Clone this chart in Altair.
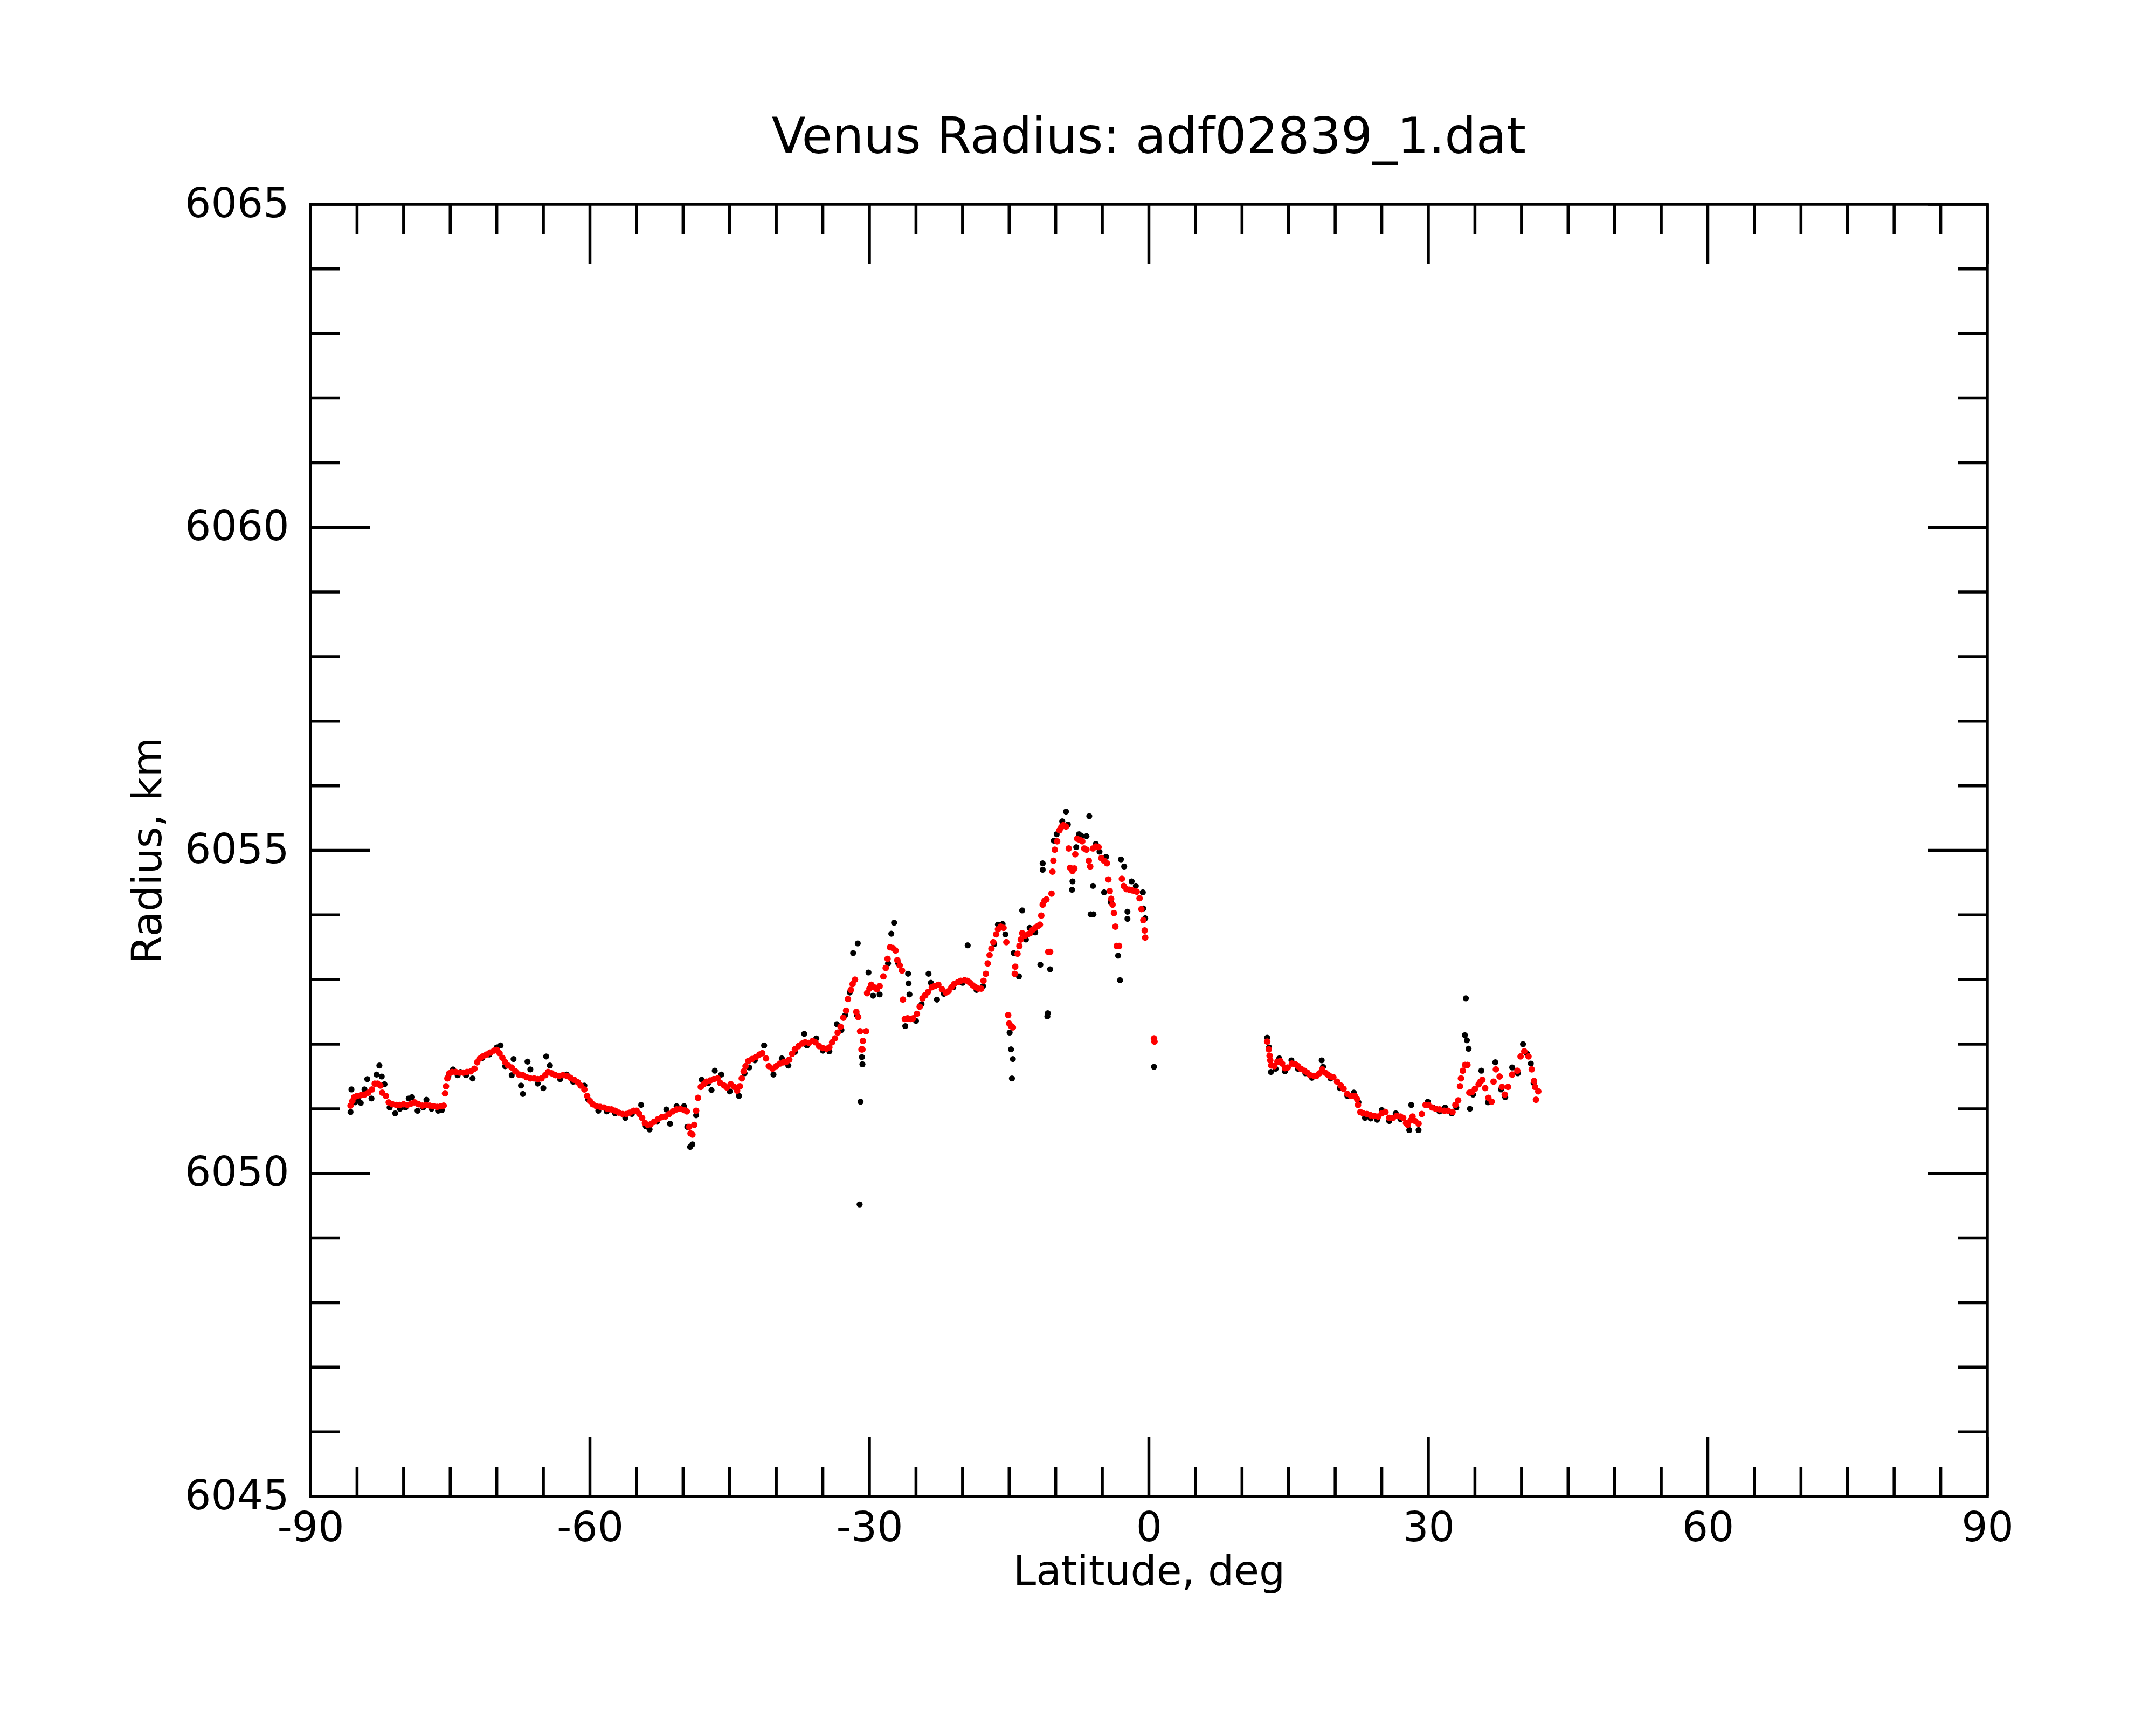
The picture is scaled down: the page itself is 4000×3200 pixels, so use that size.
import altair as alt
import pandas as pd

# ---------------- data ----------------
red_lat = [
    -85.7, -85.5, -85.3, -85.0, -84.6, -84.2, -83.8, -83.4, -83.1, -82.8, -82.5, -82.3,
    -81.9, -81.6, -81.2, -80.8, -80.4, -80.0, -79.6, -79.2, -78.8, -78.4, -78.0, -77.6,
    -77.2, -76.8, -76.4, -76.0, -75.7, -75.55, -75.45, -75.3, -75.1, -74.8, -74.4, -74.0,
    -73.6, -73.2, -72.8, -72.4, -72.1, -71.8, -71.5, -71.1, -70.7, -70.3, -70.0, -69.7,
    -69.4, -69.1, -68.8, -68.4, -68.0, -67.6, -67.2, -66.8, -66.4, -66.0, -65.6, -65.2,
    -64.8, -64.5, -64.1, -63.7, -63.3, -62.9, -62.5, -62.1, -61.7, -61.3, -61.0, -60.6,
    -60.3, -60.0, -59.7, -59.3, -58.9, -58.5, -58.1, -57.7, -57.3, -56.9, -56.5, -56.1,
    -55.7, -55.3, -55.0, -54.7, -54.4, -54.1, -53.8, -53.5, -53.1, -52.7, -52.3, -51.9,
    -51.5, -51.1, -50.7, -50.3, -49.9, -49.6, -49.35, -49.2, -49.0, -48.8, -48.6, -48.4,
    -48.1, -47.8, -47.5, -47.1, -46.7, -46.3, -46.0, -45.6, -45.3, -44.9, -44.5, -44.2,
    -43.9, -43.7, -43.5, -43.3, -43.0, -42.6, -42.2, -41.8, -41.5, -41.1, -40.8, -40.4,
    -40.0, -39.6, -39.2, -38.9, -38.6, -38.3, -38.0, -37.6, -37.2, -36.9, -36.5, -36.1,
    -35.8, -35.4, -35.0, -34.6, -34.3, -34.0, -33.7, -33.4, -33.1, -32.8, -32.5, -32.3,
    -32.0, -31.8, -31.55, -31.4, -31.2, -31.0, -30.85, -30.75, -30.7, -30.35, -30.25, -30.0,
    -29.8, -29.5, -29.2, -28.9, -28.5, -28.25, -28.05, -27.8, -27.5, -27.2, -27.0, -26.75,
    -26.5, -26.4, -26.2, -25.9, -25.6, -25.3, -24.9, -24.6, -24.3, -24.0, -23.7, -23.3,
    -23.0, -22.6, -22.2, -21.8, -21.5, -21.2, -20.9, -20.5, -20.2, -19.8, -19.5, -19.2,
    -18.9, -18.6, -18.3, -18.0, -17.75, -17.5, -17.3, -17.1, -16.9, -16.7, -16.4, -16.2,
    -15.9, -15.6, -15.3, -15.1, -15.0, -14.8, -14.6, -14.4, -14.35, -14.1, -13.9, -13.75,
    -13.6, -13.3, -13.0, -12.75, -12.5, -12.2, -11.9, -11.7, -11.55, -11.4, -11.2, -11.0,
    -10.8, -10.6, -10.45, -10.35, -10.25, -10.1, -9.85, -9.6, -9.4, -9.2, -8.9, -8.6,
    -8.45, -8.2, -8.0, -7.9, -7.7, -7.4, -7.15, -6.95, -6.7, -6.45, -6.3, -6.0,
    -5.7, -5.4, -5.1, -4.8, -4.5, -4.35, -4.2, -4.05, -3.9, -3.75, -3.6, -3.45,
    -3.2, -2.9, -2.7, -2.4, -2.1, -1.8, -1.5, -1.3, -1.0, -0.8, -0.6, -0.45,
    -0.4, 0.55, 0.6,
    12.70, 12.87, 12.96, 13.03, 13.14, 13.47, 13.8, 14.1, 14.3, 14.6, 14.9, 15.35,
    15.7, 16.0, 16.3, 16.7, 17.0, 17.3, 17.7, 18.0, 18.3, 18.6, 18.9, 19.2,
    19.5, 19.8, 20.2, 20.6, 20.9, 21.3, 21.7, 22.1, 22.35, 22.45, 22.7, 23.0,
    23.4, 23.8, 24.2, 24.6, 25.0, 25.4, 25.8, 26.2, 26.6, 27.0, 27.3, 27.6,
    27.8, 28.1, 28.3, 28.6, 28.95, 29.3, 29.7, 30.0, 30.4, 30.8, 31.2, 31.7,
    32.1, 32.6, 32.9, 33.2, 33.4, 33.5, 33.7, 33.95, 34.2, 34.4, 34.7, 35.0,
    35.4, 35.6, 35.8, 36.1, 36.45, 36.8, 37.0, 37.25, 37.65, 37.9, 38.2, 38.55,
    39.0, 39.55, 39.9, 40.3, 40.75, 41.1, 41.35, 41.45, 41.55, 41.8,
]
red_rad = [
    6051.05, 6051.12, 6051.18, 6051.20, 6051.21, 6051.22, 6051.25, 6051.30, 6051.39, 6051.39, 6051.36, 6051.25,
    6051.20, 6051.10, 6051.07, 6051.06, 6051.06, 6051.07, 6051.06, 6051.08, 6051.10, 6051.07, 6051.05, 6051.06,
    6051.05, 6051.04, 6051.03, 6051.04, 6051.05, 6051.24, 6051.35, 6051.47, 6051.55, 6051.57, 6051.57, 6051.56,
    6051.56, 6051.57, 6051.58, 6051.62, 6051.72, 6051.78, 6051.81, 6051.84, 6051.87, 6051.90, 6051.91, 6051.86,
    6051.79, 6051.72, 6051.67, 6051.64, 6051.58, 6051.53, 6051.52, 6051.49, 6051.47, 6051.47, 6051.46, 6051.47,
    6051.52, 6051.57, 6051.55, 6051.52, 6051.51, 6051.52, 6051.51, 6051.48, 6051.45, 6051.41, 6051.36, 6051.30,
    6051.20, 6051.12, 6051.07, 6051.04, 6051.03, 6051.02, 6051.00, 6050.99, 6050.97, 6050.94, 6050.92, 6050.92,
    6050.94, 6050.97, 6050.97, 6050.92, 6050.86, 6050.78, 6050.75, 6050.76, 6050.80, 6050.84, 6050.87, 6050.88,
    6050.92, 6050.96, 6050.99, 6051.00, 6050.98, 6050.96, 6050.72, 6050.62, 6050.60, 6050.75, 6050.97, 6051.17,
    6051.34, 6051.38, 6051.42, 6051.44, 6051.46, 6051.47, 6051.40, 6051.36, 6051.33, 6051.38, 6051.34, 6051.28,
    6051.35, 6051.47, 6051.58, 6051.66, 6051.74, 6051.77, 6051.80, 6051.84, 6051.86, 6051.78, 6051.66, 6051.62,
    6051.66, 6051.70, 6051.72, 6051.73, 6051.76, 6051.85, 6051.92, 6051.97, 6052.01, 6052.03, 6052.02, 6052.05,
    6052.03, 6051.97, 6051.94, 6051.93, 6051.95, 6052.03, 6052.09, 6052.18, 6052.27, 6052.41, 6052.52, 6052.70,
    6052.84, 6052.93, 6053.00, 6052.50, 6052.42, 6052.20, 6051.92, 6051.92, 6052.05, 6052.20, 6052.79, 6052.86,
    6052.92, 6052.88, 6052.85, 6052.90, 6053.05, 6053.18, 6053.32, 6053.50, 6053.49, 6053.45, 6053.30, 6053.22,
    6053.14, 6052.69, 6052.39, 6052.40, 6052.39, 6052.40, 6052.47, 6052.58, 6052.71, 6052.76, 6052.81, 6052.88,
    6052.90, 6052.92, 6052.85, 6052.80, 6052.82, 6052.88, 6052.93, 6052.96, 6052.98, 6052.99, 6052.98, 6052.95,
    6052.91, 6052.88, 6052.86, 6052.86, 6052.98, 6053.09, 6053.25, 6053.38, 6053.48, 6053.58, 6053.70, 6053.78,
    6053.82, 6053.80, 6053.58, 6052.45, 6052.32, 6052.28, 6052.26, 6053.09, 6053.20, 6053.40, 6053.52, 6053.62,
    6053.72, 6053.68, 6053.70, 6053.72, 6053.77, 6053.80, 6053.83, 6053.85, 6053.99, 6054.16, 6054.22, 6054.24,
    6053.43, 6053.43, 6054.33, 6054.67, 6054.84, 6055.01, 6055.14, 6055.31, 6055.36, 6055.39, 6055.37, 6055.03,
    6054.73, 6054.68, 6054.72, 6054.94, 6055.18, 6055.16, 6055.14, 6055.03, 6055.01, 6054.84, 6054.75, 6055.03,
    6055.06, 6055.05, 6054.88, 6054.84, 6054.80, 6054.55, 6054.37, 6054.25, 6054.16, 6054.03, 6053.82, 6053.52,
    6053.52, 6054.56, 6054.45, 6054.40, 6054.39, 6054.38, 6054.37, 6054.36, 6054.26, 6054.09, 6053.92, 6053.76,
    6053.65, 6052.09, 6052.04,
    6052.04, 6051.92, 6051.82, 6051.75, 6051.67, 6051.66, 6051.73, 6051.74, 6051.70, 6051.63, 6051.64, 6051.70,
    6051.69, 6051.66, 6051.62, 6051.59, 6051.56, 6051.52, 6051.51, 6051.51, 6051.55, 6051.61, 6051.56, 6051.53,
    6051.50, 6051.49, 6051.42, 6051.36, 6051.31, 6051.23, 6051.20, 6051.20, 6051.15, 6051.06, 6050.95, 6050.93,
    6050.92, 6050.90, 6050.89, 6050.88, 6050.93, 6050.95, 6050.86, 6050.86, 6050.89, 6050.88, 6050.86, 6050.78,
    6050.75, 6050.82, 6050.88, 6050.81, 6050.77, 6050.92, 6051.06, 6051.06, 6051.02, 6051.00, 6050.99, 6050.97,
    6050.97, 6050.95, 6051.06, 6051.13, 6051.35, 6051.47, 6051.59, 6051.68, 6051.68, 6051.25, 6051.26, 6051.31,
    6051.38, 6051.42, 6051.45, 6051.32, 6051.17, 6051.11, 6051.42, 6051.61, 6051.50, 6051.34, 6051.22, 6051.34,
    6051.53, 6051.59, 6051.81, 6051.89, 6051.81, 6051.61, 6051.43, 6051.34, 6051.14, 6051.27,
]

black_lat = [
    -85.7, -85.6, -85.2, -84.9, -84.6, -84.2, -83.9, -83.45, -82.9, -82.6, -82.35, -82.05,
    -81.5, -80.9, -80.4, -79.8, -79.45, -79.1, -78.5, -77.9, -77.55, -77.0, -76.3, -75.9,
    -75.2, -74.7, -74.2, -73.9, -73.3, -72.6, -71.6, -70.8, -70.0, -69.6, -69.1, -68.4,
    -68.2, -67.4, -67.2, -66.7, -66.4, -65.6, -65.0, -64.7, -64.3, -63.2, -62.5, -61.8,
    -60.6, -60.2, -59.1, -58.2, -57.3, -56.2, -55.5, -54.5, -54.0, -53.6, -52.8, -51.8,
    -51.4, -50.7, -49.9, -49.55, -49.25, -49.0, -48.6, -48.0, -47.3, -46.95, -46.6, -45.9,
    -45.0, -44.0, -43.4, -42.9, -42.3, -41.3, -40.3, -39.4, -38.7, -38.0, -37.0, -36.7,
    -35.7, -35.0, -34.3, -33.5, -33.0, -32.6, -32.1, -31.75, -31.25, -31.35, -30.95, -31.05,
    -30.8, -30.75, -30.1, -29.6, -28.9, -28.0, -27.65, -27.35, -26.9, -26.15, -25.85, -25.8,
    -25.7, -25.0, -24.4, -23.65, -23.4, -22.75, -22.0, -21.0, -20.0, -19.45, -18.5, -17.8,
    -16.6, -16.2, -15.7, -15.4, -14.95, -14.8, -14.6, -14.7, -14.5, -13.95, -13.6, -13.2,
    -12.8, -12.2, -11.65, -11.4, -11.4, -10.9, -10.85, -10.6, -10.2, -9.9, -9.3, -8.9,
    -8.7, -8.2, -8.25, -7.8, -7.5, -7.2, -6.7, -6.4, -6.25, -6.0, -5.95, -5.7,
    -5.3, -4.8, -4.6, -4.1, -3.3, -3.1, -3.0, -2.65, -2.3, -2.3, -1.85, -1.4,
    -0.65, -0.6, -0.4, 0.55,
    12.7, 12.9, 13.1, 13.6, 14.0, 14.6, 15.3, 16.0, 16.8, 17.5, 18.55, 18.7,
    19.5, 20.5, 21.3, 22.0, 22.5, 23.2, 23.8, 24.5, 25.0, 25.8, 26.5, 27.0,
    27.95, 28.17, 28.95, 29.94, 30.5, 31.2, 31.8, 32.5, 33.0, 33.92, 34.03, 34.14,
    34.32, 34.47, 34.8, 35.69, 36.4, 37.19, 37.8, 38.25, 39.0, 39.6, 40.16, 40.6,
    41.0, 41.3,
]
black_rad = [
    6050.95, 6051.30, 6051.10, 6051.15, 6051.09, 6051.30, 6051.46, 6051.16, 6051.53, 6051.67, 6051.50, 6051.38,
    6051.02, 6050.93, 6051.00, 6051.02, 6051.16, 6051.18, 6050.97, 6051.02, 6051.14, 6051.00, 6050.97, 6050.98,
    6051.50, 6051.61, 6051.52, 6051.57, 6051.52, 6051.47, 6051.78, 6051.84, 6051.95, 6051.98, 6051.66, 6051.52,
    6051.77, 6051.36, 6051.23, 6051.73, 6051.61, 6051.39, 6051.32, 6051.81, 6051.67, 6051.46, 6051.53, 6051.42,
    6051.36, 6051.15, 6050.97, 6050.96, 6050.93, 6050.86, 6050.92, 6051.06, 6050.73, 6050.68, 6050.80, 6050.99,
    6050.77, 6051.04, 6051.04, 6050.72, 6050.41, 6050.45, 6050.90, 6051.45, 6051.40, 6051.29, 6051.59, 6051.53,
    6051.27, 6051.20, 6051.55, 6051.64, 6051.75, 6051.98, 6051.53, 6051.78, 6051.67, 6051.88, 6052.16, 6051.98,
    6052.09, 6051.90, 6051.89, 6052.31, 6052.22, 6052.45, 6052.80, 6053.41, 6053.56, 6052.45, 6051.11, 6049.52,
    6051.80, 6051.69, 6053.11, 6052.75, 6052.77, 6053.25, 6053.71, 6053.88, 6053.25, 6052.28, 6053.09, 6052.94,
    6052.77, 6052.36, 6052.62, 6053.09, 6052.95, 6052.69, 6052.78, 6052.88, 6052.95, 6053.53, 6052.84, 6052.90,
    6053.55, 6053.85, 6053.86, 6053.70, 6052.18, 6051.92, 6051.77, 6051.47, 6053.41, 6053.05, 6054.07, 6053.62,
    6053.80, 6053.73, 6053.23, 6054.80, 6054.70, 6052.43, 6052.48, 6053.16, 6055.15, 6055.25, 6055.45, 6055.60,
    6055.40, 6054.52, 6054.39, 6055.05, 6055.25, 6055.22, 6055.22, 6055.53, 6054.01, 6054.45, 6054.01, 6055.10,
    6054.98, 6054.35, 6054.90, 6054.20, 6053.37, 6052.99, 6054.86, 6054.75, 6054.05, 6053.94, 6054.52, 6054.45,
    6054.35, 6054.10, 6053.95, 6051.65,
    6052.10, 6051.95, 6051.57, 6051.62, 6051.78, 6051.58, 6051.75, 6051.62, 6051.55, 6051.48, 6051.75, 6051.65,
    6051.47, 6051.32, 6051.20, 6051.25, 6051.10, 6050.86, 6050.85, 6050.83, 6050.98, 6050.81, 6050.93, 6050.84,
    6050.67, 6051.06, 6050.67, 6051.11, 6051.02, 6050.96, 6051.02, 6050.93, 6051.02, 6052.14, 6052.71, 6052.06,
    6051.93, 6051.00, 6051.22, 6051.59, 6051.10, 6051.72, 6051.30, 6051.18, 6051.64, 6051.55, 6052.00, 6051.85,
    6051.70, 6051.40,
]

x_tick_labels = [-90, -60, -30, 0, 30, 60, 90]
y_tick_labels = [6045, 6050, 6055, 6060, 6065]
x_minor_ticks = [-85, -80, -75, -70, -65, -55, -50, -45, -40, -35, -25, -20, -15, -10, -5,
                 5, 10, 15, 20, 25, 35, 40, 45, 50, 55, 65, 70, 75, 80, 85]
y_minor_ticks = [6046, 6047, 6048, 6049, 6051, 6052, 6053, 6054, 6056, 6057, 6058, 6059,
                 6061, 6062, 6063, 6064]

# ---------------- layout ----------------
W, H = 3111, 2397
FONT = "DejaVu Sans"
FS = 76
MINOR, MAJOR = 55, 110
TW = 5.5

xs = alt.Scale(domain=[-90, 90], nice=False, zero=False)
ys = alt.Scale(domain=[6045, 6065], nice=False, zero=False)

red_df = pd.DataFrame({"lat": red_lat, "radius": red_rad})
blk_df = pd.DataFrame({"lat": black_lat, "radius": black_rad})

x_axis = alt.Axis(values=x_tick_labels, title="Latitude, deg", ticks=False, domain=False,
                  grid=False, labelFont=FONT, labelFontSize=FS, labelColor="black",
                  labelPadding=22, labelFlush=False, labelOverlap=False, labelLimit=0,
                  labelExpr="'' + datum.value",
                  titleFont=FONT, titleFontSize=FS, titleFontWeight="normal",
                  titleColor="black", titlePadding=6)
y_axis = alt.Axis(values=y_tick_labels, title="Radius, km", ticks=False, domain=False,
                  grid=False, labelFont=FONT, labelFontSize=FS, labelColor="black",
                  labelPadding=40, labelFlush=False, labelOverlap=False, labelLimit=0,
                  labelExpr="'' + datum.value",
                  titleFont=FONT, titleFontSize=FS, titleFontWeight="normal",
                  titleColor="black", titlePadding=62)

black_pts = alt.Chart(blk_df).mark_circle(color="black", opacity=1, size=125).encode(
    x=alt.X("lat:Q", scale=xs, axis=x_axis),
    y=alt.Y("radius:Q", scale=ys, axis=y_axis),
)
red_pts = alt.Chart(red_df).mark_circle(color="#ff0000", opacity=1, size=145).encode(
    x=alt.X("lat:Q", scale=xs),
    y=alt.Y("radius:Q", scale=ys),
)

def xticks(vals, length):
    d = pd.DataFrame({"lat": vals})
    bot = alt.Chart(d).mark_rule(color="black", strokeWidth=TW).encode(
        x=alt.X("lat:Q", scale=xs),
        y=alt.value(H), y2=alt.value(H - length))
    top = alt.Chart(d).mark_rule(color="black", strokeWidth=TW).encode(
        x=alt.X("lat:Q", scale=xs),
        y=alt.value(0), y2=alt.value(length))
    return [bot, top]

def yticks(vals, length):
    d = pd.DataFrame({"radius": vals})
    left = alt.Chart(d).mark_rule(color="black", strokeWidth=TW).encode(
        y=alt.Y("radius:Q", scale=ys),
        x=alt.value(0), x2=alt.value(length))
    right = alt.Chart(d).mark_rule(color="black", strokeWidth=TW).encode(
        y=alt.Y("radius:Q", scale=ys),
        x=alt.value(W - length), x2=alt.value(W))
    return [left, right]

layers = [black_pts, red_pts]
layers += xticks(x_minor_ticks, MINOR) + xticks(x_tick_labels, MAJOR)
layers += yticks(y_minor_ticks, MINOR) + yticks(y_tick_labels, MAJOR)

chart = alt.layer(*layers).properties(
    width=W, height=H,
    autosize=alt.AutoSizeParams(type="none"),
    padding={"left": 568, "top": 371, "right": 305, "bottom": 416},
    title=alt.TitleParams("Venus Radius: adf02839_1.dat", font=FONT, fontSize=92,
                          fontWeight="normal", color="black", anchor="middle",
                          baseline="alphabetic", offset=-35),
    background="white",
).configure_view(stroke="black", strokeWidth=TW)

chart.save("out.html", embed_options={"renderer": "svg", "actions": False})
